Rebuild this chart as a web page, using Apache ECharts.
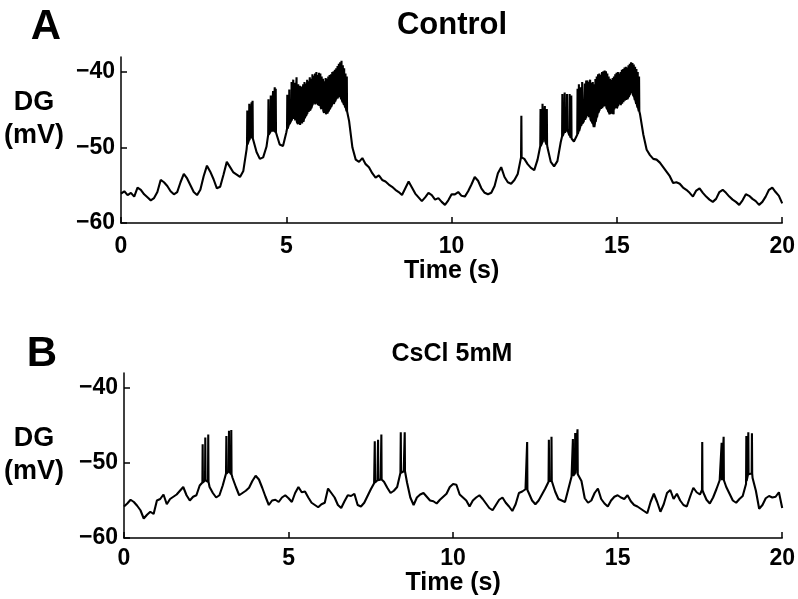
<!DOCTYPE html>
<html><head><meta charset="utf-8">
<script src="https://cdn.jsdelivr.net/npm/echarts@6/dist/echarts.min.js"></script>
<style>html,body{margin:0;padding:0;background:#fff}#c{width:798px;height:599px}</style>
</head><body><div id="c"></div>
<script>
// ---------------- data ----------------
const xTicks = [0, 5, 10, 15, 20];
const yTicks = [-60, -50, -40];
const sampleStep = 0.1; // seconds between base-trace samples

// Panel A (Control): membrane potential every 0.1 s, 0..20 s
const baseA = [
 -56.1,-55.8,-56.3,-56.0,-56.5,-55.3,-55.6,-56.2,-56.6,-57.0,
 -56.7,-55.9,-54.3,-54.6,-55.1,-55.8,-56.2,-55.9,-54.6,-53.5,
 -54.1,-55.0,-55.9,-56.3,-55.6,-53.8,-52.4,-53.2,-54.2,-55.4,
 -55.2,-53.6,-51.9,-52.6,-53.3,-53.6,-53.9,-53.1,-50.2,-48.6,
 -48.9,-50.6,-51.5,-51.3,-49.9,-48.2,-47.9,-48.1,-49.6,-49.8,
 -48.0,-46.8,-46.2,-46.6,-47.1,-46.9,-45.8,-45.1,-44.3,-44.2,
 -44.5,-45.1,-45.6,-44.9,-44.2,-43.6,-43.3,-44.0,-44.9,-46.5,
 -50.0,-51.6,-51.9,-51.4,-52.2,-52.6,-53.4,-54.0,-53.7,-54.3,
 -54.5,-54.9,-55.2,-55.6,-55.9,-56.3,-55.4,-54.5,-55.3,-56.1,
 -56.6,-57.1,-56.6,-56.0,-56.3,-56.9,-56.7,-57.2,-57.6,-57.0,
 -56.2,-56.2,-55.9,-56.4,-56.5,-55.8,-54.9,-53.9,-54.4,-55.4,
 -56.0,-56.2,-56.0,-55.1,-53.4,-52.6,-53.9,-54.6,-54.8,-54.3,
 -53.5,-51.3,-51.5,-52.2,-52.7,-53.0,-51.6,-49.6,-49.1,-50.0,
 -51.9,-52.5,-51.8,-49.3,-48.0,-47.6,-48.7,-49.2,-48.3,-47.1,
 -46.5,-45.8,-46.2,-47.3,-46.0,-45.1,-44.7,-44.5,-45.2,-45.6,
 -44.8,-44.5,-44.2,-43.8,-43.2,-42.9,-44.2,-45.6,-48.3,-50.3,
 -51.0,-51.5,-51.6,-52.0,-52.6,-53.2,-53.8,-54.7,-54.6,-54.8,
 -55.3,-55.6,-56.0,-56.5,-55.7,-55.4,-56.0,-56.5,-56.9,-57.2,
 -56.8,-55.9,-55.6,-56.0,-56.5,-56.9,-57.2,-57.6,-57.0,-56.2,
 -56.4,-56.8,-57.1,-57.6,-57.2,-56.5,-55.6,-55.3,-55.9,-56.4,
 -57.4
];
// Panel A action potentials: time (s), foot (mV), peak (mV)
const spikeTimeA = [
 3.82,3.88,3.95,3.98,4.46,4.53,4.60,4.65,4.68,
 5.03,5.09,5.16,5.21,5.26,5.31,5.36,5.41,
 5.47,5.51,5.55,5.59,5.63,5.67,5.71,5.75,5.79,5.83,5.87,5.91,5.95,5.99,
 6.03,6.07,6.11,6.15,6.19,6.23,6.27,6.31,6.35,6.39,6.43,6.47,6.51,6.55,6.59,6.63,6.67,6.71,6.75,6.79,6.83,
 12.11,12.69,12.75,12.82,12.88,13.35,13.42,13.49,13.57,13.62,13.81,13.85,13.91,13.95,14.03,14.07,
 14.11,14.15,14.19,14.23,14.27,14.31,14.35,14.39,14.43,14.47,14.51,14.55,14.59,14.63,14.67,14.71,14.75,14.79,14.83,14.87,
 14.91,14.95,14.99,15.03,15.07,15.11,15.15,15.19,15.23,15.27,15.31,15.35,15.39,15.43,15.47,15.51,15.55,15.59,15.63,15.67
];
const spikeFootA = [
 -49.6,-49.0,-48.8,-48.8,-48.3,-47.9,-47.8,-48.0,-48.0,
 -47.5,-46.9,-46.4,-46.2,-46.4,-46.6,-46.9,-47.0,
 -46.8,-46.6,-46.1,-45.8,-45.5,-45.3,-45.1,-44.8,-44.4,-44.2,-44.3,-44.2,-44.4,-44.5,
 -44.6,-44.9,-45.1,-45.4,-45.6,-45.5,-45.2,-44.9,-44.6,-44.3,-44.2,-43.9,-43.6,-43.5,-43.3,-43.3,-43.6,-44.0,-44.3,-44.7,-45.2,
 -51.3,-49.8,-49.3,-49.1,-49.6,-48.5,-48.0,-47.6,-48.4,-48.8,-48.2,-47.8,-47.1,-46.8,-46.3,-46.0,
 -45.8,-46.0,-46.2,-46.5,-46.8,-47.3,-46.6,-46.0,-45.4,-45.1,-44.9,-44.8,-44.6,-44.5,-44.6,-44.9,-45.3,-45.6,-45.5,-45.2,
 -44.9,-44.6,-44.5,-44.5,-44.3,-44.4,-44.2,-44.0,-43.8,-43.7,-43.6,-43.3,-43.0,-42.8,-42.9,-43.2,-43.7,-44.2,-44.7,-45.2
];
const spikePeakA = [
 -45.1,-44.2,-44.0,-43.8,-43.6,-43.1,-42.5,-42.0,-42.2,
 -43.0,-42.3,-41.3,-41.0,-41.4,-40.7,-41.6,-41.8,
 -41.9,-41.6,-41.3,-41.5,-41.0,-41.2,-40.7,-40.9,-40.3,-40.5,-40.2,-40.0,-40.4,-40.1,
 -40.2,-40.6,-40.9,-41.2,-40.8,-40.9,-40.6,-40.4,-40.3,-40.0,-39.9,-39.7,-39.5,-39.2,-38.9,-38.7,-38.5,-39.1,-39.5,-40.2,-40.6,
 -45.8,-44.9,-44.2,-44.5,-44.9,-42.9,-42.7,-42.9,-42.9,-43.1,-42.2,-41.6,-42.0,-41.3,-41.5,-41.1,
 -41.1,-41.3,-41.0,-41.4,-41.3,-41.6,-40.9,-40.6,-40.3,-40.2,-40.4,-40.0,-39.9,-39.8,-39.9,-40.2,-40.6,-40.9,-41.0,-40.8,
 -40.6,-40.3,-40.1,-40.0,-40.2,-40.0,-39.7,-39.6,-39.4,-39.3,-39.4,-39.1,-38.9,-38.7,-38.8,-39.0,-39.3,-39.6,-40.0,-40.6
];

// Panel B (CsCl 5mM): membrane potential every 0.1 s, 0..20 s
const baseB = [
 -55.8,-55.4,-54.9,-55.2,-55.7,-56.3,-57.4,-56.9,-56.5,-56.8,
 -55.0,-54.8,-54.2,-55.5,-54.8,-54.5,-54.2,-53.7,-53.2,-54.3,
 -55.0,-54.5,-54.3,-53.0,-52.4,-52.2,-53.2,-54.0,-54.6,-54.3,
 -53.0,-51.4,-51.2,-52.0,-53.2,-54.3,-54.0,-53.7,-53.3,-52.4,
 -51.7,-52.2,-53.3,-54.5,-55.6,-55.0,-54.9,-55.2,-54.6,-54.3,
 -54.7,-55.2,-54.0,-53.2,-53.9,-53.8,-54.6,-55.3,-55.6,-55.9,
 -55.5,-55.3,-53.4,-54.0,-54.6,-55.6,-56.0,-55.1,-54.3,-54.4,
 -54.1,-55.6,-55.8,-55.3,-54.4,-53.5,-52.7,-52.3,-52.2,-52.5,
 -53.3,-54.0,-53.7,-53.2,-51.3,-51.1,-52.6,-54.6,-55.6,-54.6,
 -54.2,-54.0,-54.5,-55.0,-55.1,-55.4,-54.9,-54.5,-54.1,-53.2,
 -52.8,-52.9,-54.2,-54.6,-55.0,-55.8,-55.0,-54.6,-54.3,-54.8,
 -55.4,-56.0,-56.3,-55.6,-54.9,-54.6,-55.3,-55.8,-56.4,-55.5,
 -54.0,-53.8,-53.5,-54.0,-55.0,-55.5,-55.0,-54.2,-53.4,-52.5,
 -52.5,-53.8,-54.8,-55.0,-55.2,-53.5,-51.8,-51.4,-51.6,-52.4,
 -54.7,-55.3,-55.0,-54.0,-53.4,-54.8,-55.4,-55.8,-55.0,-54.5,
 -54.3,-54.6,-54.8,-54.3,-55.1,-55.6,-55.8,-56.1,-56.4,-56.7,
 -55.2,-54.1,-55.2,-56.5,-55.5,-54.0,-53.6,-54.8,-54.1,-55.0,
 -55.6,-55.8,-54.5,-53.3,-53.9,-54.2,-53.9,-54.9,-55.4,-54.6,
 -53.5,-52.3,-52.4,-53.2,-54.1,-55.0,-55.3,-54.8,-54.4,-52.8,
 -51.3,-52.0,-53.7,-56.1,-55.6,-54.7,-54.4,-54.6,-54.5,-53.9,
 -56.0
];
const spikeTimeB = [2.39,2.47,2.56,3.11,3.19,3.26,7.62,7.72,7.82,8.41,8.53,12.25,12.91,12.99,13.64,13.71,13.78,17.57,18.16,18.22,18.91,18.97,19.08];
const spikeFootB = [-52.6,-52.3,-52.5,-51.4,-51.1,-51.5,-52.6,-52.3,-52.2,-51.3,-51.1,-53.6,-52.4,-52.4,-51.7,-51.4,-51.5,-53.6,-52.3,-52.3,-52.4,-51.5,-51.4];
const spikePeakB = [-47.5,-46.6,-46.2,-46.4,-45.7,-45.6,-47.1,-46.9,-46.2,-45.9,-45.9,-47.2,-46.9,-46.5,-46.8,-46.0,-45.5,-47.2,-47.3,-46.5,-46.4,-45.9,-46.05];

// ---------------- build ----------------
function buildTrace(base, st, sf, sp) {
  const pts = base.map((v, i) => [i * sampleStep, v]);
  const hw = 0.008;
  st.forEach((t, i) => { pts.push([t - hw, sf[i]], [t, sp[i]], [t + hw, sf[i]]); });
  pts.sort((a, b) => a[0] - b[0]);
  return pts;
}
const traceA = buildTrace(baseA, spikeTimeA, spikeFootA, spikePeakA);
const traceB = buildTrace(baseB, spikeTimeB, spikeFootB, spikePeakB);

const FONT = '"Liberation Sans", Arial, Helvetica, sans-serif';
const minus = v => String(v).replace('-', '\u2212');

function xAx(gi, labelMargin, nameGap) {
  return {
    gridIndex: gi, type: 'value', min: 0, max: 20,
    name: 'Time (s)', nameLocation: 'middle', nameGap: nameGap,
    nameTextStyle: { color: '#000', fontWeight: 'bold', fontSize: 25, fontFamily: FONT },
    axisLine: { show: true, onZero: false, lineStyle: { color: '#000', width: 1.5 } },
    axisTick: { show: true, inside: true, length: 6, customValues: xTicks, lineStyle: { color: '#000', width: 1.5 } },
    axisLabel: { show: true, customValues: xTicks, margin: labelMargin, color: '#000', fontWeight: 'bold', fontSize: 23, fontFamily: FONT },
    splitLine: { show: false }
  };
}
function yAx(gi) {
  return {
    gridIndex: gi, type: 'value', min: -60, max: -38,
    axisLine: { show: true, onZero: false, lineStyle: { color: '#000', width: 1.5 } },
    axisTick: { show: true, inside: true, length: 6, customValues: yTicks, lineStyle: { color: '#000', width: 1.5 } },
    axisLabel: { show: true, customValues: yTicks, margin: 6, color: '#000', fontWeight: 'bold', fontSize: 23, fontFamily: FONT, formatter: minus },
    splitLine: { show: false }
  };
}
function txt(text, x, y, size) {
  return { type: 'text', x: x, y: y, silent: true,
    style: { text: text, fill: '#000', font: 'bold ' + size + 'px ' + FONT,
      align: 'center', verticalAlign: 'middle', textAlign: 'center', textVerticalAlign: 'middle', lineHeight: size * 1.25 } };
}

const chart = echarts.init(document.getElementById('c'), null, { renderer: 'canvas' });
chart.setOption({
  animation: false,
  backgroundColor: '#fff',
  grid: [
    { left: 121, top: 57, width: 662, height: 166 },
    { left: 124, top: 373, width: 659, height: 165 }
  ],
  xAxis: [xAx(0, 12, 35), xAx(1, 9, 29)],
  yAxis: [yAx(0), yAx(1)],
  series: [
    { type: 'line', xAxisIndex: 0, yAxisIndex: 0, data: traceA, showSymbol: false, symbol: 'none',
      lineStyle: { color: '#000', width: 2.1 }, clip: false },
    { type: 'line', xAxisIndex: 1, yAxisIndex: 1, data: traceB, showSymbol: false, symbol: 'none',
      lineStyle: { color: '#000', width: 2.1 }, clip: false }
  ],
  graphic: [
    txt('A', 46, 27, 42),
    txt('B', 42, 354, 42),
    txt('Control', 452, 25, 31),
    txt('CsCl 5mM', 452, 354, 25),
    txt('DG\n(mV)', 34, 119, 27),
    txt('DG\n(mV)', 34, 455, 27)
  ]
});
</script></body></html>
